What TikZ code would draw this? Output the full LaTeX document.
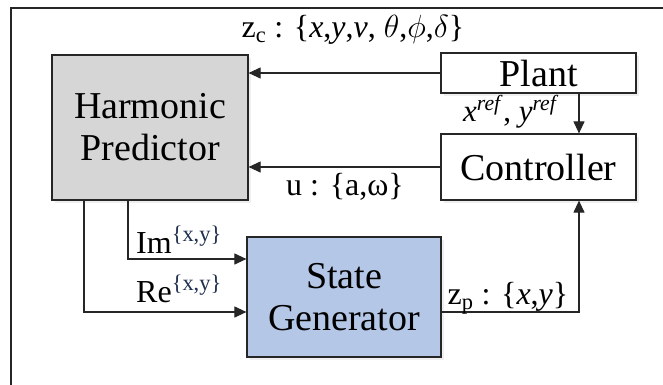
\documentclass[tikz,border=0pt]{standalone}
\usepackage{fix-cm}
\usepackage{fontspec}
\setmainfont{Liberation Serif}
\usetikzlibrary{arrows.meta,shadows}
\definecolor{predfill}{HTML}{D6D6D6}
\definecolor{genfill}{HTML}{B4C7E7}
\definecolor{supblue}{HTML}{1F2F4F}
\tikzset{
  block/.style={draw=black!85, line width=1.2pt, inner sep=0pt, align=center,
    font=\fontsize{38}{42}\selectfont,
    drop shadow={opacity=0.12, shadow xshift=2.5pt, shadow yshift=-2.5pt}},
  link/.style={draw=black!85, line width=1.1pt},
  flow/.style={link, -{Triangle[length=12pt,width=11pt]}},
  lbl/.style={font=\fontsize{32}{36}\selectfont, inner sep=0pt},
}
\newcommand{\supxy}{\textsuperscript{\color{supblue}\{x,y\}}}
\begin{document}
\begin{tikzpicture}[x=1pt,y=-1pt]
\useasboundingbox (0,0) rectangle (663,384);
\fill[white] (0,0) rectangle (663,384);
\begin{scope}
\clip (0,0) rectangle (663,384);
\draw[line width=1.2pt, black!85] (11,8) rectangle (700,420);
\end{scope}

% blocks
\node[block, fill=predfill, minimum width=196pt, minimum height=145pt] (hp) at (150,127.5) {Harmonic\\Predictor};
\node[block, fill=white, minimum width=195pt, minimum height=40pt] (plant) at (538.5,73) {Plant};
\node[block, fill=white, minimum width=195pt, minimum height=66pt] (ctrl) at (538.5,167) {Controller};
\node[block, fill=genfill, minimum width=194pt, minimum height=120pt] (sg) at (344,297) {State\\Generator};

% helper points
\coordinate (imy) at (0,259);
\coordinate (rey) at (0,312);
\coordinate (imx) at (128,0);
\coordinate (rex) at (84,0);
\coordinate (fbx) at (579,0);

% connectors
\draw[flow] (plant.west) -- (plant.west -| hp.east);
\draw[flow] (ctrl.west) -- (ctrl.west -| hp.east);
\draw[flow] (plant.south -| fbx) -- (ctrl.north -| fbx);
\draw[flow] (hp.south -| imx) |- (imy -| sg.west);
\draw[flow] (hp.south -| rex) |- (rey -| sg.west);
\draw[flow] (rey -| sg.east) -| (ctrl.south -| fbx);

% labels
\node[lbl] (zc) at (353,30) {z\textsubscript{c} : \{\textit{x},\textit{y},\textit{v}, $\theta$,$\phi$,$\delta$\}};
\node[lbl, font=\fontsize{31}{34}\selectfont] (xr) at (511,112) {\textit{x}\textsuperscript{\textit{ref}}, \textit{y}\textsuperscript{\textit{ref}}};
\node[lbl] (uu) at (345,187) {u : \{a,ω\}};
\node[lbl] (im) at (179,240) {Im\supxy};
\node[lbl] (re) at (179,289) {Re\supxy};
\node[lbl] (zp) at (508,298) {z\textsubscript{p} : \{\textit{x},\textit{y}\}};
\end{tikzpicture}
\end{document}
